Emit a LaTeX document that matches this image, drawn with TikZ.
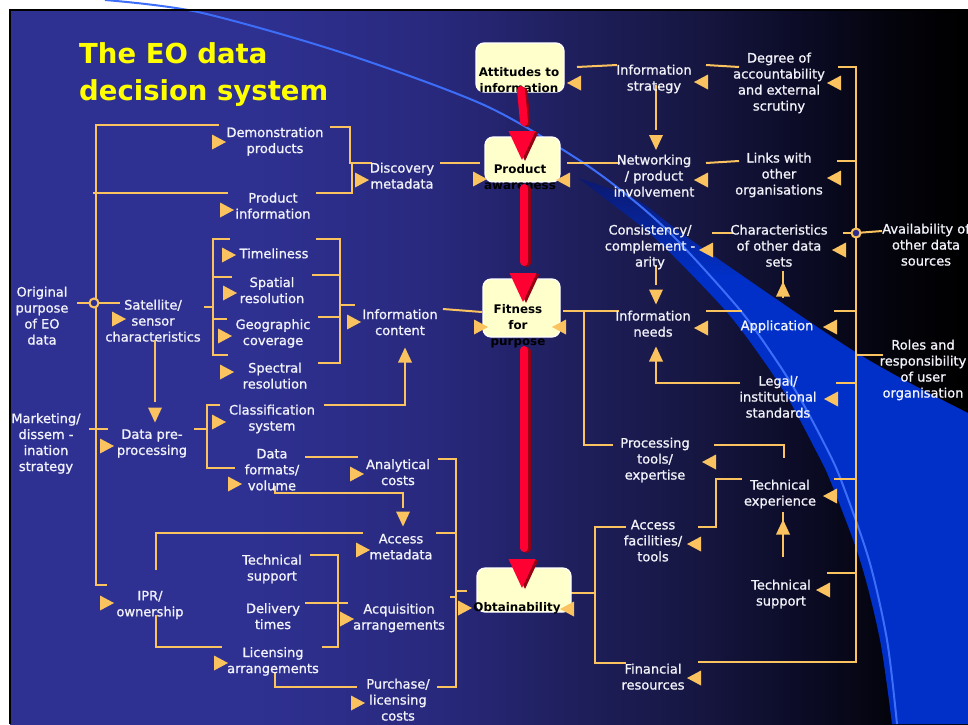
\documentclass[tikz,border=0pt]{standalone}
\usepackage{fontspec}
\setmainfont{DejaVu Sans}
\newfontfamily\lblfont{DejaVu Sans}[FakeBold=1.0]
\definecolor{bgA}{RGB}{47,49,146}
\definecolor{bgB}{RGB}{40,40,124}
\definecolor{bgC}{RGB}{30,30,90}
\definecolor{bgD}{RGB}{22,22,65}
\definecolor{bgE}{RGB}{12,12,40}
\definecolor{bgF}{RGB}{3,3,10}
\definecolor{swA}{RGB}{0,48,200}
\definecolor{swB}{RGB}{12,25,110}
\definecolor{arcblue}{RGB}{60,110,250}
\definecolor{acol}{RGB}{250,195,95}
\definecolor{txt}{RGB}{242,242,250}
\definecolor{boxfill}{RGB}{255,255,204}
\definecolor{rcol}{RGB}{255,0,51}
\definecolor{rdark}{RGB}{150,0,20}
\definecolor{titley}{RGB}{255,255,0}
\definecolor{dotfill}{RGB}{45,45,140}
% shadings: the path bounding box maps onto 25bp..75bp
\pgfdeclarehorizontalshading{bgshade}{100bp}{color(0bp)=(bgA); color(37.5bp)=(bgA); color(47.5bp)=(bgB); color(55bp)=(bgC); color(61bp)=(bgD); color(66bp)=(bgE); color(71.5bp)=(bgF); color(75bp)=(black); color(100bp)=(black)}
\pgfdeclareverticalshading{swoosh}{100bp}{color(0bp)=(swA); color(66bp)=(swA); color(75bp)=(swB); color(100bp)=(swB)}
\newcommand\triR[1]{\fill[acol,shift={(#1)}] (-7,-7.5) -- (7,0) -- (-7,7.5) -- cycle;}
\newcommand\triL[1]{\fill[acol,shift={(#1)}] (7,-7.5) -- (-7,0) -- (7,7.5) -- cycle;}
\newcommand\triD[1]{\fill[acol,shift={(#1)}] (-7,-7.5) -- (7,-7.5) -- (0,7.5) -- cycle;}
\newcommand\triU[1]{\fill[acol,shift={(#1)}] (-7,7.5) -- (7,7.5) -- (0,-7.5) -- cycle;}
\newcommand\redbar[2]{\draw[rdark,line width=8pt,line cap=round,shift={(2.5,1)}] (#1) -- (#2); \draw[rcol,line width=8pt,line cap=round] (#1) -- (#2);}
\newcommand\redhead[1]{\fill[rdark,shift={(#1)},shift={(3,1)}] (-13.5,0) -- (13.5,0) -- (0,29) -- cycle; \fill[rcol,shift={(#1)}] (-13.5,0) -- (13.5,0) -- (0,29) -- cycle;}
\tikzset{
  lbl/.style={text=txt, align=center, font=\lblfont\fontsize{13}{16}\selectfont, inner sep=0pt, execute at begin node=\strut, execute at end node=\strut},
  btxt/.style={text=black, align=center, font=\bfseries\fontsize{11.9}{16}\selectfont, inner sep=0pt, execute at begin node=\strut, execute at end node=\strut},
  ybox/.style={draw=white, line width=1.2pt, fill=boxfill, rounded corners=8pt, inner sep=0pt},
  ln/.style={draw=acol, line width=2pt},
  ttl/.style={font=\bfseries\fontsize{27.5}{33}\selectfont, inner sep=0pt, anchor=base west}
}
\begin{document}
\begin{tikzpicture}[x=1pt,y=-1pt]
\useasboundingbox (0,0) rectangle (968,724);
\fill[white] (0,0) rectangle (968,724);
\shade[shading=bgshade] (10,10) rectangle (968,724);
% blue swoosh
\shade[shading=swoosh] plot[smooth] coordinates {(578,178) (637,200) (691,240) (857,353) (968,413)} -- (968,724) -- plot[smooth] coordinates {(892,724) (880,640) (860,560) (830,480) (814,447) (789,400) (763,360) (725,310) (657,240) (607,200) (578,178)} -- cycle;
\draw[arcblue, line width=2pt] plot[smooth] coordinates {(105,0) (198,12) (340,52) (484,105) (579,160) (633,200) (677,240) (740,310) (776,360) (801,400) (826,447) (841,480) (869,560) (887,640) (897,724)};
\draw[black, line width=1.5pt] (968,10) -- (10,10) -- (10,724);

% ---- orange connectors, left part
\draw[ln] (219,125) -- (96,125) -- (96,585) -- (107,585);
\draw[ln] (93,193) -- (228,193);
\draw[ln] (77,303) -- (120,303);
\draw[ln] (89,429) -- (108,429);
\draw[ln] (330,127) -- (350,127) -- (350,163) -- (372,163);
\draw[ln] (316,193) -- (352,193) -- (352,163);
\draw[ln] (440,163) -- (480,163);
\draw[ln] (204,307) -- (213,307);
\draw[ln] (230,239) -- (213,239) -- (213,355) -- (228,355);
\draw[ln] (213,277) -- (232,277);
\draw[ln] (213,319) -- (227,319);
\draw[ln] (316,239) -- (340,239) -- (340,363) -- (318,363);
\draw[ln] (312,275) -- (340,275);
\draw[ln] (318,317) -- (340,317);
\draw[ln] (340,305) -- (355,305);
\draw[ln] (443,309) -- (482,312);
\draw[ln] (155,340) -- (155,402);
\draw[ln] (324,405) -- (405,405) -- (405,360);
\draw[ln] (194,429) -- (207,429);
\draw[ln] (220,405) -- (207,405) -- (207,468) -- (235,468);
\draw[ln] (305,457) -- (358,457);
\draw[ln] (275,486) -- (275,493) -- (403,493) -- (403,508);
\draw[ln] (438,459) -- (456,459) -- (456,687) -- (437,687);
\draw[ln] (436,533) -- (456,533);
\draw[ln] (450,597) -- (456,597);
\draw[ln] (456,591) -- (467,591);
\draw[ln] (156,570) -- (156,533) -- (363,533);
\draw[ln] (310,555) -- (338,555) -- (338,647) -- (322,647);
\draw[ln] (305,603) -- (348,603);
\draw[ln] (156,615) -- (156,647) -- (222,647);
\draw[ln] (275,673) -- (275,687) -- (357,687);
% ---- orange connectors, right part
\draw[ln] (577,67) -- (617,65);
\draw[ln] (706,65) -- (739,67);
\draw[ln] (838,67) -- (856,67) -- (856,662) -- (698,662);
\draw[ln] (656,85) -- (656,130);
\draw[ln] (567,163) -- (620,163);
\draw[ln] (706,163) -- (739,161);
\draw[ln] (837,161) -- (856,161);
\draw[ln] (712,233) -- (733,233);
\draw[ln] (843,233) -- (856,233);
\draw[ln] (856,233) -- (882,231);
\draw[ln] (656,265) -- (656,285);
\draw[ln] (783,271) -- (783,298);
\draw[ln] (563,311) -- (619,311);
\draw[ln] (584,311) -- (584,445) -- (613,445);
\draw[ln] (706,311) -- (742,311);
\draw[ln] (834,311) -- (856,311);
\draw[ln] (856,355) -- (883,355);
\draw[ln] (836,383) -- (856,383);
\draw[ln] (740,383) -- (656,383) -- (656,360);
\draw[ln] (714,445) -- (784,445) -- (784,458);
\draw[ln] (834,479) -- (856,479);
\draw[ln] (698,527) -- (716,527) -- (716,479) -- (742,479);
\draw[ln] (783,557) -- (783,512);
\draw[ln] (827,573) -- (856,573);
\draw[ln] (571,593) -- (595,593);
\draw[ln] (626,527) -- (595,527) -- (595,663) -- (626,663);
\draw[acol, line width=2pt, fill=bgA] (94,303) circle (4.5pt);
\draw[acol, line width=2pt, fill=dotfill] (856,233) circle (4.5pt);

% ---- yellow boxes
\node[ybox, minimum width=88pt, minimum height=49pt] (attB) at (520,67.5) {};
\node[ybox, minimum width=75pt, minimum height=45pt] (pawB) at (522.5,159.5) {};
\node[ybox, minimum width=77pt, minimum height=58pt] (ffpB) at (521.5,308) {};
\node[ybox, minimum width=94pt, minimum height=44pt] (obtB) at (524,590) {};
\node[btxt] (att) at (519,82) {Attitudes to\\information};
\node[btxt] (paw) at (520,179) {Product\\awareness};
\node[btxt] (ffp) at (518,327) {Fitness\\for\\purpose};
\node[btxt] (obt) at (517,608) {Obtainability};

% ---- labels
\node[lbl] (dm) at (275,142.5) {Demonstration\\products};
\node[lbl] (pi) at (273,208) {Product\\information};
\node[lbl] (dsc) at (402,178) {Discovery\\metadata};
\node[lbl] (orig) at (42,318) {Original\\purpose\\of EO\\data};
\node[lbl] (mkt) at (46,444.5) {Marketing/\\dissem -\\ination\\strategy};
\node[lbl] (sat) at (153,323) {Satellite/\\sensor\\characteristics};
\node[lbl] (tim) at (274,255) {Timeliness};
\node[lbl] (spa) at (272,292.5) {Spatial\\resolution};
\node[lbl] (geo) at (273,334.5) {Geographic\\coverage};
\node[lbl] (spe) at (275,378) {Spectral\\resolution};
\node[lbl] (ic) at (400,324.5) {Information\\content};
\node[lbl] (cls) at (272,420) {Classification\\system};
\node[lbl] (dpp) at (152,444.5) {Data pre-\\processing};
\node[lbl] (dfv) at (272,472) {Data\\formats/\\volume};
\node[lbl] (ac) at (398,474.5) {Analytical\\costs};
\node[lbl] (am) at (401,549) {Access\\metadata};
\node[lbl] (ts1) at (272,570) {Technical\\support};
\node[lbl] (ipr) at (150,606) {IPR/\\ownership};
\node[lbl] (dt) at (273,618.5) {Delivery\\times};
\node[lbl] (acq) at (399,619) {Acquisition\\arrangements};
\node[lbl] (lic) at (273,662.5) {Licensing\\arrangements};
\node[lbl] (plc) at (398,702) {Purchase/\\licensing\\costs};
\node[lbl] (is) at (654,80) {Information\\strategy};
\node[lbl] (deg) at (779,84) {Degree of\\accountability\\and external\\scrutiny};
\node[lbl] (net) at (654,178) {Networking\\/ product\\involvement};
\node[lbl] (lnk) at (779,176) {Links with\\other\\organisations};
\node[lbl] (avl) at (926,247) {Availability of\\other data\\sources};
\node[lbl] (cons) at (650,248) {Consistency/\\complement -\\arity};
\node[lbl] (chr) at (779,248) {Characteristics\\of other data\\sets};
\node[lbl] (app) at (777,327) {Application};
\node[lbl] (inf) at (653,326) {Information\\needs};
\node[lbl] (rol) at (923,371) {Roles and\\responsibility\\of user\\organisation};
\node[lbl] (leg) at (778,399) {Legal/\\institutional\\standards};
\node[lbl] (proc) at (655,461) {Processing\\tools/\\expertise};
\node[lbl] (tex) at (780,495) {Technical\\experience};
\node[lbl] (afac) at (653,543) {Access\\facilities/\\tools};
\node[lbl] (ts2) at (781,595) {Technical\\support};
\node[lbl] (fin) at (653,679) {Financial\\resources};

% ---- orange arrowheads
\triR{219,142} \triR{227,210} \triR{362,180} \triR{480,179} \triR{481,327} \triR{465,608}
\triR{119,319} \triR{229,255} \triR{230,293} \triR{225,336} \triR{227,372} \triR{354,322}
\triR{219,422} \triR{107,446} \triR{235,484} \triR{357,474} \triR{363,550} \triR{347,619}
\triR{107,603} \triR{221,663} \triR{358,703}
\triL{574,83} \triL{701,82} \triL{834,83} \triL{563,180} \triL{701,180} \triL{834,178}
\triL{706,250} \triL{839,250} \triL{559,327} \triL{701,328} \triL{830,327} \triL{831,399}
\triL{709,462} \triL{830,496} \triL{694,544} \triL{823,590} \triL{567,609} \triL{694,678}
\triD{656,142.5} \triD{155,415} \triD{656,297} \triD{403,519}
\triU{783,289} \triU{405,355} \triU{656,354} \triU{783,527}

% ---- red flow arrows
\redbar{521,90}{524,122}
\redhead{522,131}
\redbar{524,188}{524,262}
\redhead{523,273}
\redbar{524,350}{524,548}
\redhead{522,559}

% ---- title
\node[ttl, text=titley] (t1) at (79,63) {The EO data};
\node[ttl, text=titley] (t2) at (79,100) {decision system};
\end{tikzpicture}
\end{document}
